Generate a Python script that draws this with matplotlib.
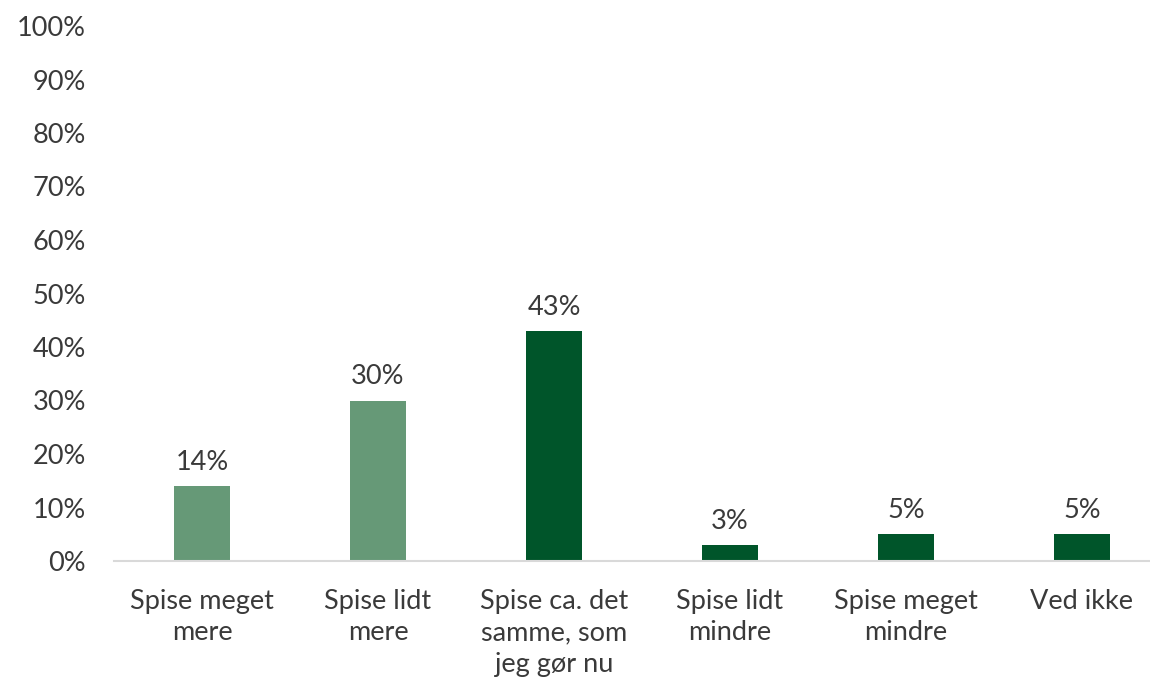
import matplotlib
matplotlib.use("Agg")
import matplotlib.pyplot as plt

categories = ["Spise meget\nmere", "Spise lidt\nmere", "Spise ca. det\nsamme, som\njeg gør nu",
              "Spise lidt\nmindre", "Spise meget\nmindre", "Ved ikke"]
values = [14, 30, 43, 3, 5, 5]
bar_colors = ["#669977", "#669977", "#00552A", "#00552A", "#00552A", "#00552A"]
yticks = list(range(0, 101, 10))

plt.rcParams['font.family'] = ['Lato', 'DejaVu Sans']
text_color = '#3A3A3A'
fs = 19.5

fig = plt.figure(figsize=(11.5, 6.84), dpi=100)
ax = fig.add_axes([114 / 1150, (684 - 561) / 684, (1150 - 114) / 1150, (561 - 26) / 684])

x = list(range(len(categories)))
ax.bar(x, values, width=0.32, color=bar_colors, zorder=2)

# datalabels over søjlerne
for xi, v in zip(x, values):
    ax.annotate(f"{v}%", (xi, v), xytext=(0, 8), textcoords='offset points',
                ha='center', va='bottom', fontsize=fs, color=text_color)

ax.set_xlim(-0.5, -0.5 + 1036 / 176)
ax.set_ylim(0, 100)
ax.set_yticks(yticks)
ax.set_yticklabels([f"{t}%" for t in yticks], fontsize=fs, color=text_color)
ax.set_xticks(x)
ax.set_xticklabels(categories, fontsize=fs, color=text_color, linespacing=1.33)

ax.tick_params(axis='y', length=0, pad=20)
ax.tick_params(axis='x', length=0, pad=20)
for s in ['top', 'right', 'left']:
    ax.spines[s].set_visible(False)
ax.spines['bottom'].set_color('#D9D9D9')
ax.spines['bottom'].set_linewidth(1.5)
ax.spines['bottom'].set_zorder(3)

fig.savefig("out.png", dpi=100)
